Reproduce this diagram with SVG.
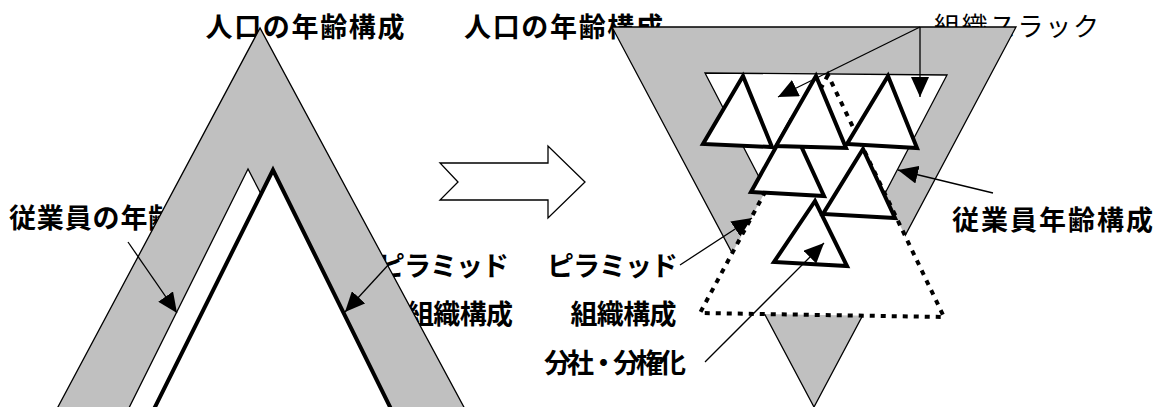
<svg xmlns="http://www.w3.org/2000/svg" width="1153" height="407" viewBox="0 0 1153 407">
<style>
.lbl{font-family:"Noto Sans CJK JP","Noto Sans CJK SC",sans-serif;font-size:27px;font-weight:bold;fill:#000}
.lbln{font-family:"Noto Sans CJK JP","Noto Sans CJK SC",sans-serif;font-size:26px;font-weight:normal;fill:#000}
.gray{fill:#c0c0c0;stroke:#000;stroke-width:1.3;stroke-linejoin:miter}
.thin{fill:#fff;stroke:#000;stroke-width:1.3}
.thick{fill:#fff;stroke:#000;stroke-width:4;stroke-linejoin:miter}
.dots{fill:#fff;stroke:#000;stroke-width:4;stroke-dasharray:5 6}
.conn{fill:none;stroke:#000;stroke-width:1.3}
</style>
<defs>
<marker id="ah" markerUnits="userSpaceOnUse" markerWidth="21" markerHeight="18" refX="20" refY="9" orient="auto">
<path d="M0,0 L20,9 L0,18 z" fill="#000"/>
</marker>
</defs>
<rect width="1153" height="407" fill="#fff"/>
<g id="labels">
<text class="lbl" x="205.5" y="37" textLength="199" lengthAdjust="spacing">人口の年齢構成</text>
<text class="lbl" x="464" y="37" textLength="199" lengthAdjust="spacing">人口の年齢構成</text>
<text class="lbl" x="9" y="228" textLength="222" lengthAdjust="spacing">従業員の年齢構成</text>
<text class="lbl" x="378" y="276" textLength="131" lengthAdjust="spacing">ピラミッド</text>
<text class="lbl" x="407" y="324" textLength="106" lengthAdjust="spacing">組織構成</text>
<text class="lbl" x="547" y="276" textLength="131" lengthAdjust="spacing">ピラミッド</text>
<text class="lbl" x="570.5" y="324" textLength="106" lengthAdjust="spacing">組織構成</text>
<text class="lbl" x="544" y="373" textLength="142" lengthAdjust="spacing">分社・分権化</text>
<text class="lbl" x="952" y="230" textLength="201" lengthAdjust="spacing">従業員年齢構成</text>
<text class="lbln" x="934" y="36" textLength="165" lengthAdjust="spacing">組織スラック</text>
</g>
<g id="left-population">
<polygon class="gray" points="260,28 35,450 487,450"/>
</g>
<g id="left-employee">
<polygon class="thin" points="248,169 108,450 394,450"/>
</g>
<g id="left-pyramid">
<polygon class="thick" points="273,170 133.6,450 411.3,450"/>
</g>
<g id="transform-arrow">
<polygon class="thin" points="440,163 548,163 548,146 585,182 548,218 548,200 440,200 458,182"/>
</g>
<g id="right-population">
<polygon class="gray" points="612,27 1016,27 814,407"/>
</g>
<g id="right-employee">
<polygon class="thin" points="705,73 947,75 826,306"/>
</g>
<g id="right-pyramid">
<polygon class="dots" points="828,75 700,313 944,317"/>
</g>
<g id="sub-units">
<polygon class="thick" points="790,122 751,192 824,196"/>
<polygon class="thick" points="743,76 703,144 772,147"/>
<polygon class="thick" points="816,76 776,146 846,148"/>
<polygon class="thick" points="888,76 847,144 917,148"/>
<polygon class="thick" points="815,201 774,262 847,266"/>
<polygon class="thick" points="863,149 823,214 895,218"/>
</g>
<g id="connectors">
<line class="conn" x1="128" y1="242" x2="177" y2="313" marker-end="url(#ah)"/>
<line class="conn" x1="390" y1="263" x2="345" y2="312" marker-end="url(#ah)"/>
<line class="conn" x1="920" y1="27" x2="778" y2="97" marker-end="url(#ah)"/>
<line class="conn" x1="920" y1="27" x2="920" y2="97" marker-end="url(#ah)"/>
<line class="conn" x1="993" y1="193" x2="898" y2="170" marker-end="url(#ah)"/>
<line class="conn" x1="680" y1="265" x2="752" y2="218" marker-end="url(#ah)"/>
<line class="conn" x1="705" y1="362" x2="824" y2="243" marker-end="url(#ah)"/>
</g>
</svg>
